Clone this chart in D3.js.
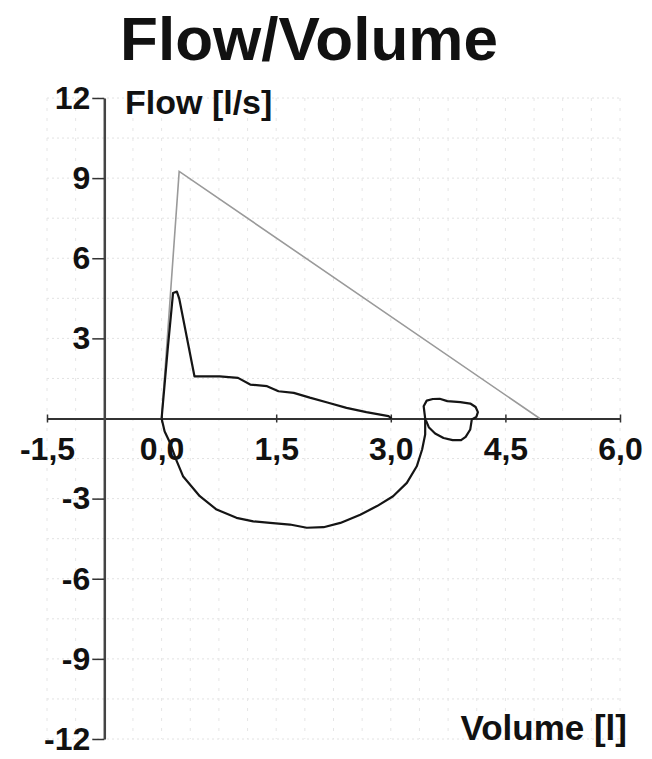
<!DOCTYPE html>
<html>
<head>
<meta charset="utf-8">
<script src="https://cdn.jsdelivr.net/npm/d3@7"></script>
<style>
  body { margin: 0; background: #fff; }
  svg text { font-family: "Liberation Sans", Arial, Helvetica, sans-serif; font-weight: bold; fill: #111; }
</style>
</head>
<body>
<div id="chart"></div>
<script>
// tick values
var xTicks = [-1.5, 0, 1.5, 3.0, 4.5, 6.0];
var yTicks = [-12, -9, -6, -3, 3, 6, 9, 12];

// predicted (gray) line: volume [l], flow [l/s]
var predVol = [0, 0.23, 4.95];
var predFlow = [0, 9.25, 0];

// expiration
var expVol = [0, 0.08, 0.15, 0.20, 0.23, 0.43, 0.76, 1.0, 1.16, 1.38, 1.53, 1.73, 1.94, 2.17, 2.42, 2.68, 2.97, 3.01];
var expFlow = [0, 2.6, 4.7, 4.75, 4.5, 1.58, 1.58, 1.52, 1.27, 1.21, 1.02, 0.96, 0.78, 0.60, 0.40, 0.24, 0.09, 0];

// inspiration loop
var insVol = [0, 0.04, 0.11, 0.19, 0.28, 0.50, 0.72, 0.98, 1.20, 1.42, 1.68, 1.90, 2.12, 2.34, 2.60, 2.82, 3.03, 3.21, 3.34, 3.41, 3.45, 3.45];
var insFlow = [0, -0.49, -0.91, -1.54, -2.16, -2.91, -3.41, -3.72, -3.85, -3.91, -3.97, -4.09, -4.07, -3.91, -3.60, -3.28, -2.91, -2.41, -1.79, -1.16, -0.60, 0];

// small loop after the inspiration
var tailVol = [3.45, 3.43, 3.47, 3.55, 3.64, 3.74, 3.91, 4.04, 4.11, 4.14, 4.12, 4.06, 4.04, 3.98, 3.92, 3.81, 3.69, 3.58, 3.50, 3.46];
var tailFlow = [0, 0.46, 0.67, 0.73, 0.74, 0.65, 0.61, 0.56, 0.43, 0.24, 0.06, -0.04, -0.41, -0.69, -0.81, -0.81, -0.73, -0.56, -0.34, -0.07];

var width = 652, height = 759;

var svg = d3.select('#chart').append('svg')
    .attr('width', width)
    .attr('height', height);

var x = d3.scaleLinear().domain([-1.5, 6]).range([47, 620]);
var y = d3.scaleLinear().domain([-12, 12]).range([739, 98]);

var fmtX = function (d) { return d3.format('.1f')(d).replace('.', ',').replace('−', '-'); };
var fmtY = function (d) { return String(d); };

// grid
var grid = svg.append('g').attr('class', 'grid');
grid.selectAll('.hgrid')
    .data(d3.range(-12, 12.01, 1.5))
    .enter().append('line')
    .attr('x1', x(-1.5)).attr('x2', x(6))
    .attr('y1', d => y(d)).attr('y2', d => y(d))
    .attr('stroke', '#e2e2e2')
    .attr('stroke-width', 1)
    .attr('stroke-dasharray', '2,3');
grid.selectAll('.vgrid')
    .data(d3.range(-1.5, 6.01, 0.375))
    .enter().append('line')
    .attr('x1', d => x(d)).attr('x2', d => x(d))
    .attr('y1', y(12)).attr('y2', y(-12))
    .attr('stroke', '#e6e6e6')
    .attr('stroke-width', 1)
    .attr('stroke-dasharray', '3,7');

// axes
var xAxis = svg.append('g')
    .attr('transform', 'translate(0,' + y(0) + ')')
    .call(d3.axisBottom(x).tickValues(xTicks).tickFormat(fmtX).tickSizeInner(4).tickSizeOuter(0).tickPadding(15));
xAxis.select('.domain').attr('stroke', '#333').attr('stroke-width', 2);
xAxis.selectAll('.tick line').attr('y1', -4).attr('stroke', '#333').attr('stroke-width', 1.5);
xAxis.selectAll('.tick text')
    .style('font-size', '32px')
    .style('font-family', '"Liberation Sans", Arial, sans-serif')
    .style('font-weight', 'bold')
    .attr('fill', '#111');

var yAxis = svg.append('g')
    .attr('transform', 'translate(' + x(-0.75) + ',0)')
    .call(d3.axisLeft(y).tickValues(yTicks).tickFormat(fmtY).tickSizeInner(12).tickSizeOuter(0).tickPadding(2));
yAxis.select('.domain').attr('stroke', '#444').attr('stroke-width', 2.5);
yAxis.selectAll('.tick line').attr('stroke', '#333').attr('stroke-width', 1.5);
yAxis.selectAll('.tick text')
    .style('font-size', '32px')
    .style('font-family', '"Liberation Sans", Arial, sans-serif')
    .style('font-weight', 'bold')
    .attr('fill', '#111');

// curves
var line = d3.line()
    .x(d => x(d[0]))
    .y(d => y(d[1]));

function pairs(vs, fs) {
    return vs.map(function (v, i) { return [v, fs[i]]; });
}

svg.append('path')
    .datum(pairs(predVol, predFlow))
    .attr('d', line)
    .attr('fill', 'none')
    .attr('stroke', '#9a9a9a')
    .attr('stroke-width', 1.6);

[[expVol, expFlow], [insVol, insFlow], [tailVol, tailFlow]].forEach(function (s) {
    svg.append('path')
        .datum(pairs(s[0], s[1]))
        .attr('d', line)
        .attr('fill', 'none')
        .attr('stroke', '#151515')
        .attr('stroke-width', 2.2)
        .attr('stroke-linejoin', 'round');
});

// titles
svg.append('text')
    .attr('x', 309)
    .attr('y', 60)
    .attr('text-anchor', 'middle')
    .style('font-size', '62px')
    .text('Flow/Volume');

svg.append('text')
    .attr('x', 125)
    .attr('y', 114)
    .style('font-size', '34px')
    .text('Flow [l/s]');

svg.append('text')
    .attr('x', 627)
    .attr('y', 740)
    .attr('text-anchor', 'end')
    .style('font-size', '35px')
    .text('Volume [l]');
</script>
</body>
</html>
